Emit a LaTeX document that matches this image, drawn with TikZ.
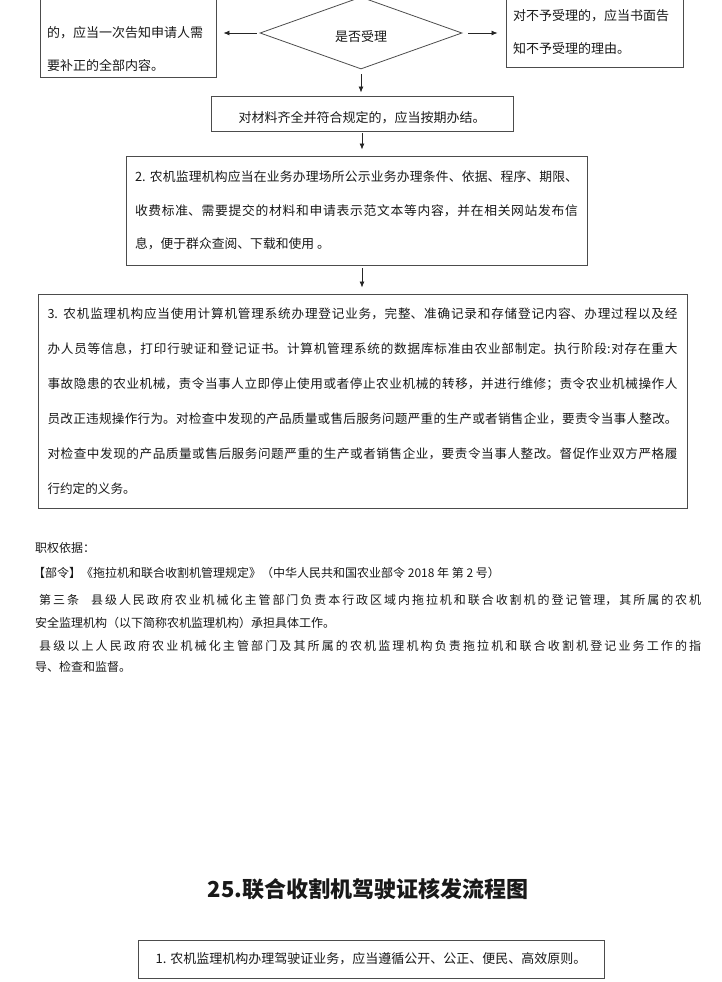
\documentclass[tikz,border=0pt]{standalone}
\usepackage{fontspec}
\setmainfont{Noto Sans CJK SC}
\usetikzlibrary{shapes.geometric,arrows.meta}
\XeTeXlinebreaklocale "zh"
\XeTeXlinebreakskip=0pt plus 2pt

\begin{document}
\begin{tikzpicture}[x=1pt,y=-1pt,
    box/.style={draw=black!70, line width=0.9pt, text=black!90},
    arr/.style={-{Latex[length=6pt,width=5pt]}, line width=0.8pt, black!85},
    flow/.style={font=\fontsize{13}{33}\selectfont},
    note/.style={text=black!90, inner sep=0pt, font=\fontsize{12}{23}\selectfont}]

  \useasboundingbox (0,0) rectangle (722,982);
  \clip (0,0) rectangle (722,982);

  % Acceptance check
  \node[diamond, draw=black!70, line width=0.8pt, minimum width=202pt, minimum height=72pt,
        inner sep=0pt, text height=17pt, text depth=0pt, text=black!90, flow] (accept) at (361,33) {是否受理};
  \node[box, flow, anchor=south, text width=162pt, inner xsep=7pt, inner ysep=6pt, align=left]
        (notify) at (128,78) {\rule{0pt}{20pt}\\的，应当一次告知申请人需\\要补正的全部内容。};
  \node[box, flow, anchor=south, text width=163pt, inner xsep=7pt, inner ysep=13pt, align=left]
        (refuse) at (594.5,68) {\rule{0pt}{20pt}\\对不予受理的，应当书面告\\知不予受理的理由。};

  % Processing steps
  \node[box, flow, minimum width=302pt, minimum height=35pt, inner sep=0pt,
        text height=18pt, text depth=0pt] (complete) at (362,113.5) {对材料齐全并符合规定的，应当按期办结。};
  \node[box, font=\fontsize{12.8}{33.5}\selectfont, text width=443pt, inner xsep=9pt,
        minimum height=109pt, align=justify] (publish) at (356.5,210.5)
        {2. 农机监理机构应当在业务办理场所公示业务办理条件、依据、程序、期限、\linebreak
         收费标准、需要提交的材料和申请表示范文本等内容，并在相关网站发布信\linebreak
         息，便于群众查阅、下载和使用 。};
  \node[box, font=\fontsize{12.6}{35}\selectfont, text width=630pt, inner xsep=9.5pt,
        minimum height=214pt, align=justify] (register) at (362.5,401)
        {3. 农机监理机构应当使用计算机管理系统办理登记业务，完整、准确记录和存储登记内容、办理过程以及经\linebreak
         办人员等信息，打印行驶证和登记证书。计算机管理系统的数据库标准由农业部制定。执行阶段:对存在重大\linebreak
         事故隐患的农业机械，责令当事人立即停止使用或者停止农业机械的转移，并进行维修；责令农业机械操作人\linebreak
         员改正违规操作行为。对检查中发现的产品质量或售后服务问题严重的生产或者销售企业，要责令当事人整改。\linebreak
         对检查中发现的产品质量或售后服务问题严重的生产或者销售企业，要责令当事人整改。督促作业双方严格履\linebreak
         行约定的义务。};

  % Connectors
  \draw[arr, shorten <=3pt, shorten >=7pt] (accept.west) -- (accept.west -| notify.east);
  \draw[arr, shorten <=6pt, shorten >=8pt] (accept.east) -- (accept.east -| refuse.west);
  \draw[arr, shorten <=5pt, shorten >=3pt] (accept.south) -- (accept.south |- complete.north);
  \draw[arr, shorten <=2pt, shorten >=6pt] (complete.south) -- (complete.south |- publish.north);
  \draw[arr, shorten <=3pt, shorten >=6pt] (complete.south |- publish.south) -- (complete.south |- register.north);

  % Legal basis
  \node[note, anchor=west] (basis) at (35,548) {职权依据：};
  \node[note, anchor=west] (decree) at (33,573)
        {【部令】《拖拉机和联合收割机管理规定》（中华人民共和国农业部令 2018 年\ 第 2 号）};
  \node[note, anchor=north west, text width=666pt, align=justify] (article) at (35,594)
        {\hspace*{4pt}第三条\quad 县级人民政府农业机械化主管部门负责本行政区域内拖拉机和联合收割机的登记管理，其所属的农机\linebreak
         安全监理机构（以下简称农机监理机构）承担具体工作。};
  \node[note, anchor=north west, text width=666pt, align=justify,
        font=\fontsize{12}{21}\selectfont] (supervise) at (35,640)
        {\hspace*{4pt}县级以上人民政府农业机械化主管部门及其所属的农机监理机构负责拖拉机和联合收割机登记业务工作的指\linebreak
         导、检查和监督。};

  % Next chart
  \node[text=black!90, font=\fontsize{22}{26}\selectfont\bfseries] (title) at (368,889)
        {25.联合收割机驾驶证核发流程图};
  \node[box, flow, minimum width=466pt, minimum height=38pt, inner sep=0pt] (principle) at (371,959)
        {1. 农机监理机构办理驾驶证业务，应当遵循公开、公正、便民、高效原则。};
\end{tikzpicture}
\end{document}
